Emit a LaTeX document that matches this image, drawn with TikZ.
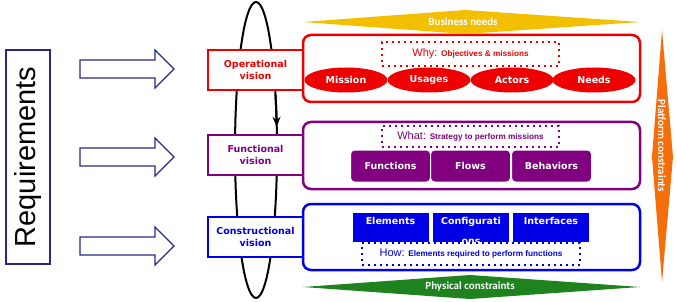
\documentclass[tikz,border=0pt]{standalone}
\usepackage{fontspec}
\setmainfont{Liberation Sans}
\newfontfamily\verdfont{DejaVu Sans}
\newfontfamily\califont{Carlito}
\usetikzlibrary{arrows.meta, shapes.geometric, calc}
\definecolor{visred}{RGB}{238, 0, 0}
\definecolor{vispurple}{RGB}{128, 0, 128}
\definecolor{visblue}{RGB}{0, 0, 230}
\definecolor{reqnavy}{RGB}{40, 40, 140}
\definecolor{bizgold}{RGB}{242, 192, 0}
\definecolor{physgreen}{RGB}{30, 130, 30}
\definecolor{platorange}{RGB}{245, 110, 10}
\newcommand{\vkey}[1]{{\fontsize{11}{11}\selectfont #1}}
\newcommand{\vnote}[1]{{\bfseries\fontsize{8.2}{10}\selectfont #1}}

\begin{document}
\begin{tikzpicture}[x=1pt, y=1pt, >=Stealth,
  visbox/.style={draw=#1, fill=white, line width=2.5pt, minimum width=95pt,
    minimum height=40pt, align=center, text=#1,
    font=\verdfont\bfseries\fontsize{9.5}{11.5}\selectfont},
  bigbox/.style={draw=#1, fill=white, line width=2.5pt, rounded corners=8pt,
    minimum width=337pt},
  dotbox/.style={draw=#1, text=#1, line width=2pt, dash pattern=on 2pt off 4pt,
    inner sep=0pt},
  item/.style={fill=#1, text=white, inner sep=0pt,
    font=\verdfont\bfseries\fontsize{9.5}{11}\selectfont},
  bandtext/.style={text=white, font=\califont\bfseries\fontsize{11}{12}\selectfont}]
  \useasboundingbox (0,0) rectangle (677,-302);
  % Requirements
  \node[draw=reqnavy, line width=1.5pt, rotate=90, minimum width=214pt,
        minimum height=44pt, inner sep=0pt, font=\fontsize{29}{29}\selectfont]
        (req) at (28,-157) {Requirements};
  \foreach \y in {-69,-157,-246}
    \draw[reqnavy, line width=1.2pt] (80,\y+9) -- (155,\y+9) -- (155,\y+19)
      -- (174,\y) -- (155,\y-19) -- (155,\y-9) -- (80,\y-9) -- cycle;
  % Loop
  \draw[line width=2pt] (256,-150) ellipse [x radius=21, y radius=148];
  % Visions
  \node[visbox=visred] (opv) at (255.5,-70) {Operational\\vision};
  \node[visbox=vispurple] (funv) at (255.5,-155) {Functional\\vision};
  \node[visbox=visblue] (conv) at (255.5,-237) {Constructional\\vision};
  \draw[line width=2pt, -{Stealth[length=10pt, width=8pt]}]
    ($(256,-150)+(22:21 and 148)$) arc[start angle=22, end angle=9,
    x radius=21, y radius=148];
  \node[bigbox=visred, minimum height=67pt] (opbox) at (471.5,-68.5) {};
  \node[bigbox=vispurple, minimum height=67pt] (funbox) at (471.5,-155.5) {};
  \node[bigbox=visblue, minimum height=66pt] (conbox) at (471.5,-237) {};
  % Operational
  \node[dotbox=visred, minimum width=177pt, minimum height=24pt] (why)
    at (470.5,-54) {\vkey{Why:} \vnote{Objectives \& missions}};
  \foreach \x/\t [count=\i] in {346/Mission, 429/Usages, 512/Actors, 594/Needs}
    \node[item=visred, ellipse, minimum width=83pt, minimum height=25pt]
      (op\i) at (\x,-80) {\t};
  % Functional
  \node[dotbox=vispurple, minimum width=177pt, minimum height=21pt] (what)
    at (470.5,-136.5) {\vkey{What:} \vnote{Strategy to perform missions}};
  \foreach \x/\t [count=\i] in {390.5/Functions, 470.5/Flows, 551.5/Behaviors}
    \node[item=vispurple, draw=white, line width=1pt, rounded corners=4pt,
      minimum width=80pt, minimum height=32pt] (fun\i) at (\x,-166) {\t};
  % Constructional
  \foreach \x/\t [count=\i] in {390.5/Elements, 471/{Configurati\\ons}, 551/Interfaces}
  {
    \node[item=visblue, minimum width=76pt, minimum height=29pt]
      (con\i) at (\x,-227.5) {};
    \node[item=, fill=none, anchor=north, align=center,
      font=\verdfont\bfseries\fontsize{9.5}{20}\selectfont]
      (conl\i) at ([yshift=-4pt]con\i.north) {\t};
  }
  \node[dotbox=visblue, fill=white, minimum width=218pt, minimum height=22pt]
    (how) at (471,-254) {\vkey{How:} \vnote{Elements required to perform functions}};
  % Constraints
  \fill[bizgold] (303,-22) -- (465,-10) -- (640,-22) -- (465,-34) -- cycle;
  \node[bandtext] (biz) at (463,-22) {Business needs};
  \fill[physgreen] (303,-287) -- (470,-275) -- (640,-287) -- (470,-299) -- cycle;
  \node[bandtext] (phys) at (470,-287) {Physical constraints};
  \fill[platorange] (662,-30) -- (673,-157) -- (662,-282) -- (652,-157) -- cycle;
  \node[bandtext, rotate=-90] (plat) at (662,-146) {Platform constraints};
\end{tikzpicture}
\end{document}
